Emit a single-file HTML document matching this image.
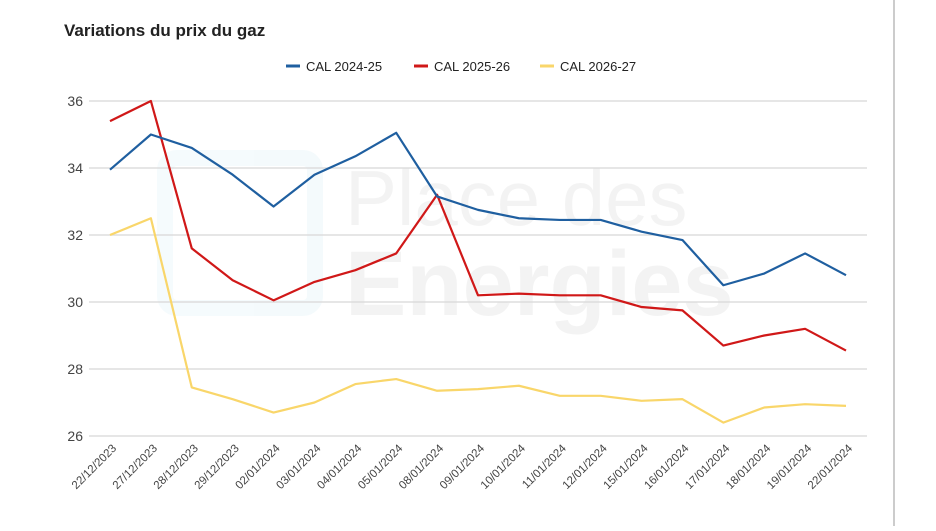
<!DOCTYPE html>
<html><head><meta charset="utf-8"><style>
body{margin:0;background:#fff;width:936px;height:526px;overflow:hidden;font-family:"Liberation Sans",Arial,sans-serif}
</style></head><body>
<svg id="c" width="936" height="526" xmlns="http://www.w3.org/2000/svg">
<line x1="894" y1="0" x2="894" y2="526" stroke="#ccc" stroke-width="2"/>
<text x="64" y="36" font-size="17" font-weight="bold" fill="#222">Variations du prix du gaz</text>
<g opacity="0.045">
<rect x="165" y="158" width="150" height="150" rx="12" fill="none" stroke="#1aa0c8" stroke-width="16"/>
<text x="345" y="225" font-size="78" fill="#000">Place des</text>
<text x="345" y="315" font-size="92" font-weight="bold" fill="#000">Energies</text>
</g>
<g id="grid"></g><g id="lines"></g><g id="xl"></g>
<g font-size="13" fill="#222">
<g><line x1="286" y1="66" x2="300" y2="66" stroke="#1f5fa0" stroke-width="3"/><text x="306" y="71">CAL 2024-25</text></g>
<g><line x1="414" y1="66" x2="428" y2="66" stroke="#d01818" stroke-width="3"/><text x="434" y="71">CAL 2025-26</text></g>
<g><line x1="540" y1="66" x2="554" y2="66" stroke="#f9d66a" stroke-width="3"/><text x="560" y="71">CAL 2026-27</text></g>
</g>
</svg>
<script>
const categories=["22/12/2023","27/12/2023","28/12/2023","29/12/2023","02/01/2024","03/01/2024","04/01/2024","05/01/2024","08/01/2024","09/01/2024","10/01/2024","11/01/2024","12/01/2024","15/01/2024","16/01/2024","17/01/2024","18/01/2024","19/01/2024","22/01/2024"];
const cal2425=[33.95,35.0,34.6,33.8,32.85,33.8,34.35,35.05,33.15,32.75,32.5,32.45,32.45,32.1,31.85,30.5,30.85,31.45,30.8];
const cal2526=[35.4,36.0,31.6,30.65,30.05,30.6,30.95,31.45,33.2,30.2,30.25,30.2,30.2,29.85,29.75,28.7,29.0,29.2,28.55];
const cal2627=[32.0,32.5,27.45,27.1,26.7,27.0,27.55,27.7,27.35,27.4,27.5,27.2,27.2,27.05,27.1,26.4,26.85,26.95,26.9];
const yTicks=[26,28,30,32,34,36];
const NS="http://www.w3.org/2000/svg";
const x=i=>110+i*(846-110)/(categories.length-1);
const y=v=>436-(v-26)*(436-101)/10;
function mk(t,a,p){const e=document.createElementNS(NS,t);for(const k in a)e.setAttribute(k,a[k]);p.appendChild(e);return e;}
const g=document.getElementById('grid');
yTicks.forEach(t=>{
 const l=mk('line',{x1:89,x2:867,y1:y(t),y2:y(t),stroke:'#ddd','stroke-width':1.5},g);
 
 
 const tx=mk('text',{x:83,y:y(t)+5,'text-anchor':'end','font-size':14,fill:'#444'},g);
 tx.textContent=t;
 
 
});
const xl=document.getElementById('xl');
categories.forEach((c,i)=>{
 const tx=mk('text',{x:0,y:0,'text-anchor':'end','font-size':11.5,fill:'#444',transform:`translate(${x(i)+7},${449}) rotate(-45)`},xl);
 tx.textContent=c;
 
 
});
const L=document.getElementById('lines');
[[cal2627,'#f9d66a','cal-2026-27'],[cal2526,'#d01818','cal-2025-26'],[cal2425,'#1f5fa0','cal-2024-25']].forEach(([d,col,n])=>{
 const p=mk('polyline',{points:d.map((v,i)=>x(i)+','+y(v)).join(' '),fill:'none',stroke:col,'stroke-width':2.2,'stroke-linejoin':'round'},L);
 
 
});
</script>
</body></html>
